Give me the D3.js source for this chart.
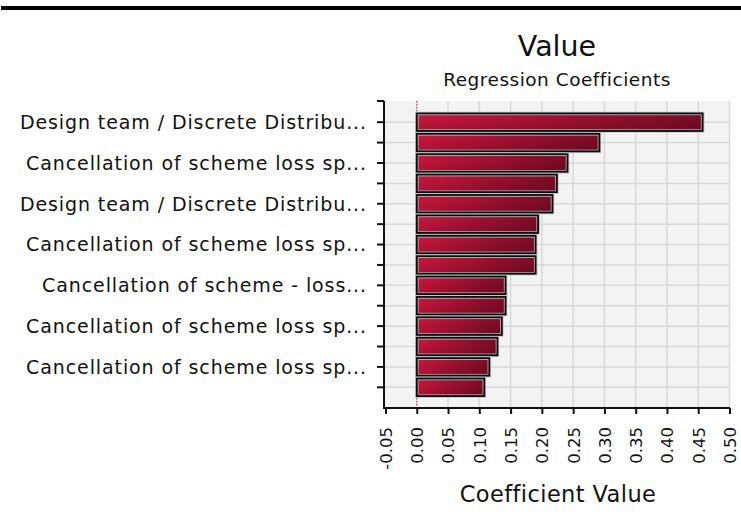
<!DOCTYPE html>
<html>
<head>
<meta charset="utf-8">
<script src="https://cdn.jsdelivr.net/npm/d3@7"></script>
<style>
    body { margin: 0; background: #ffffff; }
    text { font-family: "DejaVu Sans", Verdana, sans-serif; fill: #111; }
</style>
</head>
<body>
<script>

// bar labels (only every other bar carries a visible label)
const barLabels = [
    "Design team / Discrete Distribu...", "",
    "Cancellation of scheme loss sp...", "",
    "Design team / Discrete Distribu...", "",
    "Cancellation of scheme loss sp...", "",
    "Cancellation of scheme - loss...", "",
    "Cancellation of scheme loss sp...", "",
    "Cancellation of scheme loss sp...", ""
];

// regression coefficients
const coefficients = [0.457, 0.292, 0.241, 0.224, 0.217, 0.194, 0.190,
                      0.190, 0.142, 0.142, 0.136, 0.129, 0.116, 0.108];

// x axis ticks
const xTicks = [-0.05, 0, 0.05, 0.10, 0.15, 0.20, 0.25, 0.30, 0.35, 0.40, 0.45, 0.50];

const titleText = "Value";
const subtitleText = "Regression Coefficients";
const xTitle = "Coefficient Value";

window.onload = function() {
    makeChart();
};

/** Draw the horizontal bar chart of coefficients. */
function makeChart() {

    const width = 741;
    const height = 520;

    // plot area
    const left = 384;
    const right = 730;
    const top = 101;
    const bottom = 408;

    const ids = coefficients.map(function(d, i) { return i; });

    let svg = d3.select("body")
                .append("svg")
                .attr("width", width)
                .attr("height", height);

    // bar gradients
    let defs = svg.append("defs");
    let grad = defs.append("linearGradient")
                   .attr("id", "barGrad")
                   .attr("x1", "0").attr("y1", "0")
                   .attr("x2", "1").attr("y2", "0");
    grad.append("stop").attr("offset", "0%").attr("stop-color", "#d0173f");
    grad.append("stop").attr("offset", "100%").attr("stop-color", "#7e0c26");

    let shade = defs.append("linearGradient")
                    .attr("id", "barShade")
                    .attr("x1", "0").attr("y1", "0")
                    .attr("x2", "0").attr("y2", "1");
    shade.append("stop").attr("offset", "0%").attr("stop-color", "#000").attr("stop-opacity", 0);
    shade.append("stop").attr("offset", "100%").attr("stop-color", "#000").attr("stop-opacity", 0.18);

    // top rule
    svg.append("rect")
       .attr("x", 1)
       .attr("y", 6)
       .attr("width", width - 1)
       .attr("height", 4)
       .attr("fill", "#000");

    // scales
    let xScale = d3.scaleLinear()
                   .domain([-0.05, 0.5])
                   .range([left + 1.5, right - 0.5]);

    let yScale = d3.scaleBand()
                   .domain(ids)
                   .range([112, 397.5])
                   .paddingInner(0.14)
                   .paddingOuter(0.07);

    // plot background
    svg.append("rect")
       .attr("x", left)
       .attr("y", top)
       .attr("width", right - left)
       .attr("height", bottom - top)
       .attr("fill", "#f3f3f3");

    // vertical grid lines
    svg.append("g")
       .selectAll("line")
       .data(xTicks.slice(1))
       .enter()
       .append("line")
       .attr("x1", function(d) { return xScale(d); })
       .attr("x2", function(d) { return xScale(d); })
       .attr("y1", top)
       .attr("y2", bottom)
       .attr("stroke", "#d9d9d9")
       .attr("stroke-width", 1.5);

    // horizontal grid lines at bar centres
    const yCenter = function(i) { return yScale(i) + yScale.bandwidth() / 2; };
    svg.append("g")
       .selectAll("line")
       .data(ids)
       .enter()
       .append("line")
       .attr("x1", left)
       .attr("x2", right)
       .attr("y1", yCenter)
       .attr("y2", yCenter)
       .attr("stroke", "#d9d9d9")
       .attr("stroke-width", 1.5);

    // zero line
    svg.append("line")
       .attr("x1", xScale(0))
       .attr("x2", xScale(0))
       .attr("y1", top)
       .attr("y2", bottom)
       .attr("stroke", "#e0304f")
       .attr("stroke-width", 1)
       .attr("stroke-dasharray", "1.5,1.5");

    // bars
    let bars = svg.append("g")
                  .selectAll("g")
                  .data(coefficients)
                  .enter()
                  .append("g");

    bars.append("rect")
        .attr("x", xScale(0))
        .attr("y", function(d, i) { return yScale(i); })
        .attr("width", function(d) { return xScale(d) - xScale(0); })
        .attr("height", yScale.bandwidth())
        .attr("fill", "url(#barGrad)")
        .attr("stroke", "#c4c4c4")
        .attr("stroke-width", 3.5);

    bars.append("rect")
        .attr("x", xScale(0))
        .attr("y", function(d, i) { return yScale(i); })
        .attr("width", function(d) { return xScale(d) - xScale(0); })
        .attr("height", yScale.bandwidth())
        .attr("fill", "url(#barShade)")
        .attr("stroke", "#0a0a0a")
        .attr("stroke-width", 1.8);

    // x axis
    let xAxis = svg.append("g")
                   .attr("transform", "translate(0," + bottom + ")")
                   .call(d3.axisBottom(xScale)
                           .tickValues(xTicks)
                           .tickSize(6)
                           .tickSizeOuter(0)
                           .tickFormat(function(d) { return d3.format(".2f")(d).replace("−", "-"); }));
    xAxis.select(".domain").attr("stroke", "#111").attr("stroke-width", 2)
         .attr("d", "M" + left + ",0H" + right);
    xAxis.selectAll(".tick line").attr("stroke", "#111").attr("stroke-width", 2);
    xAxis.selectAll(".tick text")
         .attr("transform", "rotate(-90)")
         .attr("x", -19)
         .attr("y", 0)
         .attr("dy", "0.36em")
         .style("text-anchor", "end")
         .style("font-size", "16.5px")
         .style("font-family", "DejaVu Sans, Verdana, sans-serif")
         .attr("fill", "#111");

    // y axis line and ticks
    const yTicks = [top].concat(ids.map(yCenter));
    svg.append("line")
       .attr("x1", left)
       .attr("x2", left)
       .attr("y1", top)
       .attr("y2", bottom + 1)
       .attr("stroke", "#111")
       .attr("stroke-width", 2);

    svg.append("g")
       .selectAll("line")
       .data(yTicks)
       .enter()
       .append("line")
       .attr("x1", left - 7)
       .attr("x2", left)
       .attr("y1", function(d) { return d; })
       .attr("y2", function(d) { return d; })
       .attr("stroke", "#111")
       .attr("stroke-width", 2);

    // y labels
    svg.append("g")
       .selectAll("text")
       .data(barLabels)
       .enter()
       .append("text")
       .attr("x", 367)
       .attr("y", function(d, i) { return yCenter(i); })
       .attr("dy", "0.36em")
       .style("text-anchor", "end")
       .style("font-size", "19px")
       .style("letter-spacing", "0.9px")
       .text(function(d) { return d; });

    // titles
    const cx = 557;
    svg.append("text")
       .attr("x", cx)
       .attr("y", 56)
       .style("text-anchor", "middle")
       .style("font-size", "28.5px")
       .text(titleText);

    svg.append("text")
       .attr("x", cx)
       .attr("y", 86)
       .style("text-anchor", "middle")
       .style("font-size", "18.5px")
       .style("letter-spacing", "0.5px")
       .text(subtitleText);

    svg.append("text")
       .attr("x", cx + 1)
       .attr("y", 502)
       .style("text-anchor", "middle")
       .style("font-size", "22.5px")
       .style("letter-spacing", "0.4px")
       .text(xTitle);
}
</script>
</body>
</html>
